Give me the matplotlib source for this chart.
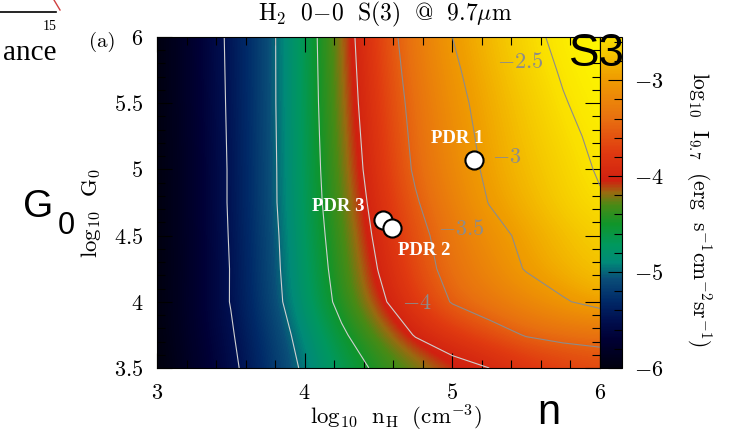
import numpy as np
import matplotlib
matplotlib.use("Agg")
import matplotlib.pyplot as plt
from matplotlib.colors import LinearSegmentedColormap, Normalize
from matplotlib.ticker import MultipleLocator

plt.rcParams['mathtext.fontset'] = 'cm'
plt.rcParams['font.family'] = ['cmr10', 'DejaVu Serif']
plt.rcParams['axes.formatter.use_mathtext'] = True

# ---------------- data ----------------
log_nH = [3.0, 3.25, 3.5, 3.75, 4.0, 4.25, 4.5, 4.75, 5.0, 5.25, 5.5, 5.75, 6.0]
log_G0 = [3.5, 3.75, 4.0, 4.25, 4.5, 4.75, 5.0, 5.25, 5.5, 5.75, 6.0]
# log10 I_9.7, one row per log_G0 value (bottom to top)
row_G0_350 = [-6.05, -5.80, -5.57, -5.26, -4.95, -4.67, -4.44, -4.27, -4.12, -4.00, -3.86, -3.75, -3.67]
row_G0_375 = [-6.02, -5.77, -5.53, -5.21, -4.88, -4.55, -4.26, -3.98, -3.80, -3.64, -3.48, -3.42, -3.40]
row_G0_400 = [-6.02, -5.75, -5.49, -5.15, -4.78, -4.41, -4.07, -3.76, -3.48, -3.33, -3.18, -3.03, -2.90]
row_G0_425 = [-6.02, -5.77, -5.49, -5.13, -4.75, -4.36, -3.99, -3.65, -3.39, -3.19, -2.98, -2.84, -2.72]
row_G0_450 = [-6.02, -5.76, -5.48, -5.12, -4.725, -4.32, -3.93, -3.605, -3.34, -3.11, -2.93, -2.78, -2.65]
row_G0_475 = [-6.02, -5.76, -5.47, -5.10, -4.70, -4.28, -3.875, -3.53, -3.25, -2.99, -2.83, -2.67, -2.53]
row_G0_500 = [-6.02, -5.76, -5.47, -5.10, -4.69, -4.25, -3.82, -3.46, -3.18, -2.94, -2.78, -2.63, -2.47]
row_G0_525 = [-6.02, -5.75, -5.465, -5.095, -4.685, -4.225, -3.79, -3.43, -3.14, -2.91, -2.74, -2.575, -2.43]
row_G0_550 = [-6.02, -5.74, -5.46, -5.09, -4.68, -4.20, -3.76, -3.40, -3.10, -2.88, -2.70, -2.52, -2.38]
row_G0_575 = [-6.02, -5.735, -5.455, -5.09, -4.675, -4.185, -3.73, -3.36, -3.05, -2.84, -2.645, -2.47, -2.34]
row_G0_600 = [-6.02, -5.73, -5.45, -5.09, -4.67, -4.17, -3.70, -3.32, -3.00, -2.80, -2.59, -2.42, -2.30]

contour_levels = [-5.5, -5.0, -4.5, -4.0, -3.5, -3.0, -2.5]
contour_label_text = ['$-2.5$', '$-3$', '$-3.5$', '$-4$']
contour_label_x = [5.46, 5.37, 5.06, 4.76]
contour_label_y = [5.81, 5.09, 4.55, 3.99]

pdr_names = ['PDR 1', 'PDR 3', 'PDR 2']
pdr_logn = [5.146, 4.53, 4.59]
pdr_logG0 = [5.07, 4.62, 4.56]
pdr_label_dx = [-0.115, -0.30, 0.22]
pdr_label_dy = [0.16, 0.10, -0.17]

xticks = [3, 4, 5, 6]
xticklabels = ['$3$', '$4$', '$5$', '$6$']
yticks = [3.5, 4, 4.5, 5, 5.5, 6]
yticklabels = ['$3.5$', '$4$', '$4.5$', '$5$', '$5.5$', '$6$']
cbticks = [-6, -5, -4, -3]
cbticklabels = ['$-6$', '$-5$', '$-4$', '$-3$']

# colour map nodes (value, colour)
cmap_values = [-6.0, -5.7, -5.5, -5.3, -5.07, -4.9, -4.72, -4.5, -4.3, -4.17, -4.05,
               -3.75, -3.4, -2.95, -2.7, -2.53, -2.25]
cmap_colors = ['#00000f', '#000035', '#001050', '#002a68', '#0a4e78', '#008a78',
               '#00985e', '#10952a', '#4a8a15', '#9a6a10', '#d02010', '#e03a10',
               '#e87010', '#f0a000', '#f5c800', '#fae000', '#ffff00']

# ---------------- figure ----------------
W, H = 729, 432
fig = plt.figure(figsize=(W / 100, H / 100), dpi=100)

def fx(px):
    return px / W

def fy(py):
    return 1 - py / H

ax = fig.add_axes([fx(157), fy(368), fx(600) - fx(157), fy(37) - fy(368)])
cax = fig.add_axes([fx(600), fy(368), fx(622) - fx(600), fy(37) - fy(368)])

Z = np.array([row_G0_350, row_G0_375, row_G0_400, row_G0_425, row_G0_450, row_G0_475,
              row_G0_500, row_G0_525, row_G0_550, row_G0_575, row_G0_600])
xn = np.array(log_nH)
yn = np.array(log_G0)

vmin, vmax = cmap_values[0], cmap_values[-1]
pos = [(v - vmin) / (vmax - vmin) for v in cmap_values]
cmap = LinearSegmentedColormap.from_list('s3', list(zip(pos, cmap_colors)))
norm = Normalize(vmin=vmin, vmax=vmax)

dx = (xn[1] - xn[0]) / 2
dy = (yn[1] - yn[0]) / 2
im = ax.imshow(Z, origin='lower', extent=[xn[0] - dx, xn[-1] + dx, yn[0] - dy, yn[-1] + dy],
               cmap=cmap, norm=norm, aspect='auto', interpolation='bicubic',
               interpolation_stage='data')

lcols = ['#d0d0d0' if lv <= -4.0 else '#8c8c8c' for lv in contour_levels]
ax.contour(xn, yn, Z, levels=contour_levels, colors=lcols, linewidths=0.8)

for t, x, y in zip(contour_label_text, contour_label_x, contour_label_y):
    ax.text(x, y, t, color='#8c8c8c', fontsize=16, ha='center', va='center')

ax.scatter(pdr_logn, pdr_logG0, s=170, facecolor='white', edgecolor='black',
           linewidth=1.5, zorder=5)
for name, x, y, ddx, ddy in zip(pdr_names, pdr_logn, pdr_logG0, pdr_label_dx, pdr_label_dy):
    ax.text(x + ddx, y + ddy, name, color='white', fontsize=13.5, fontweight='bold',
            family='Liberation Serif', ha='center', va='center', zorder=6)

ax.set_xlim(3, 6)
ax.set_ylim(3.5, 6)
ax.set_xticks(xticks)
ax.set_xticklabels(xticklabels, fontsize=16)
ax.set_yticks(yticks)
ax.set_yticklabels(yticklabels, fontsize=16)
ax.xaxis.set_minor_locator(MultipleLocator(0.2))
ax.yaxis.set_minor_locator(MultipleLocator(0.1))
ax.tick_params(which='both', direction='in', top=True, right=True, color='black', width=0.8)
ax.tick_params(which='major', length=11)
ax.tick_params(axis='x', which='major', pad=11)
ax.tick_params(axis='y', which='major', pad=10)
ax.tick_params(which='minor', length=6)
for s in ax.spines.values():
    s.set_linewidth(0.8)

# axis titles
fig.text(fx(396), fy(418), r'$\mathrm{log_{10}\ \ n_H\ \ (cm^{-3})}$', fontsize=16.5,
         ha='center', va='center')
fig.text(fx(91), fy(213), r'$\mathrm{log_{10}\ \ G_0}$', fontsize=16.5, rotation=90,
         ha='center', va='center')

cb = fig.colorbar(im, cax=cax)
cax.set_ylim(-6, -2.55)
cb.set_ticks(cbticks)
cb.set_ticklabels(cbticklabels)
cax.yaxis.set_minor_locator(MultipleLocator(0.2))
cax.tick_params(which='both', direction='in', left=False, right=True, labelsize=16, width=0.8)
cax.tick_params(which='major', length=10, pad=9)
cax.tick_params(which='minor', length=6)
cb.outline.set_linewidth(0.8)
fig.text(fx(699), fy(210), r'$\mathrm{log_{10}\ \ I_{9.7}\ \ (erg\ \ s^{-1}cm^{-2}sr^{-1})}$',
         fontsize=15.5, rotation=-90, ha='center', va='center')

fig.text(fx(385), fy(14), r'$\mathrm{H_2\ \ 0\!-\!0\ \ S(3)\ \ @\ \ 9.7}\mu\mathrm{m}$',
         fontsize=17, ha='center', va='center')
fig.text(fx(102), fy(42), '(a)', fontsize=15, ha='center', va='center')

# overlays
fig.text(fx(597), fy(54), 'S3', family='Liberation Sans', fontsize=33, ha='center',
         va='center', color='black')
fig.text(fx(38), fy(207), 'G', family='Liberation Sans', fontsize=28, ha='center',
         va='center', color='black')
fig.text(fx(66), fy(226), '0', family='Liberation Sans', fontsize=22, ha='center',
         va='center', color='black')
fig.text(fx(549), fy(413), 'n', family='Liberation Sans', fontsize=30, ha='center',
         va='center', color='black')

# cropped neighbouring panel fragment
fig.add_artist(plt.Line2D([0, fx(56)], [fy(12), fy(12)], color='black', lw=1.2))
fig.add_artist(plt.Line2D([fx(54), fx(60)], [fy(0), fy(10)], color='#d04040', lw=1.0))
fig.text(fx(50), fy(26), '15', family='Liberation Serif', fontsize=10, ha='center', va='center')
fig.text(fx(56), fy(53), 'ance', family='Liberation Serif', fontsize=21, ha='right', va='center')

fig.savefig('out.png', dpi=100)
